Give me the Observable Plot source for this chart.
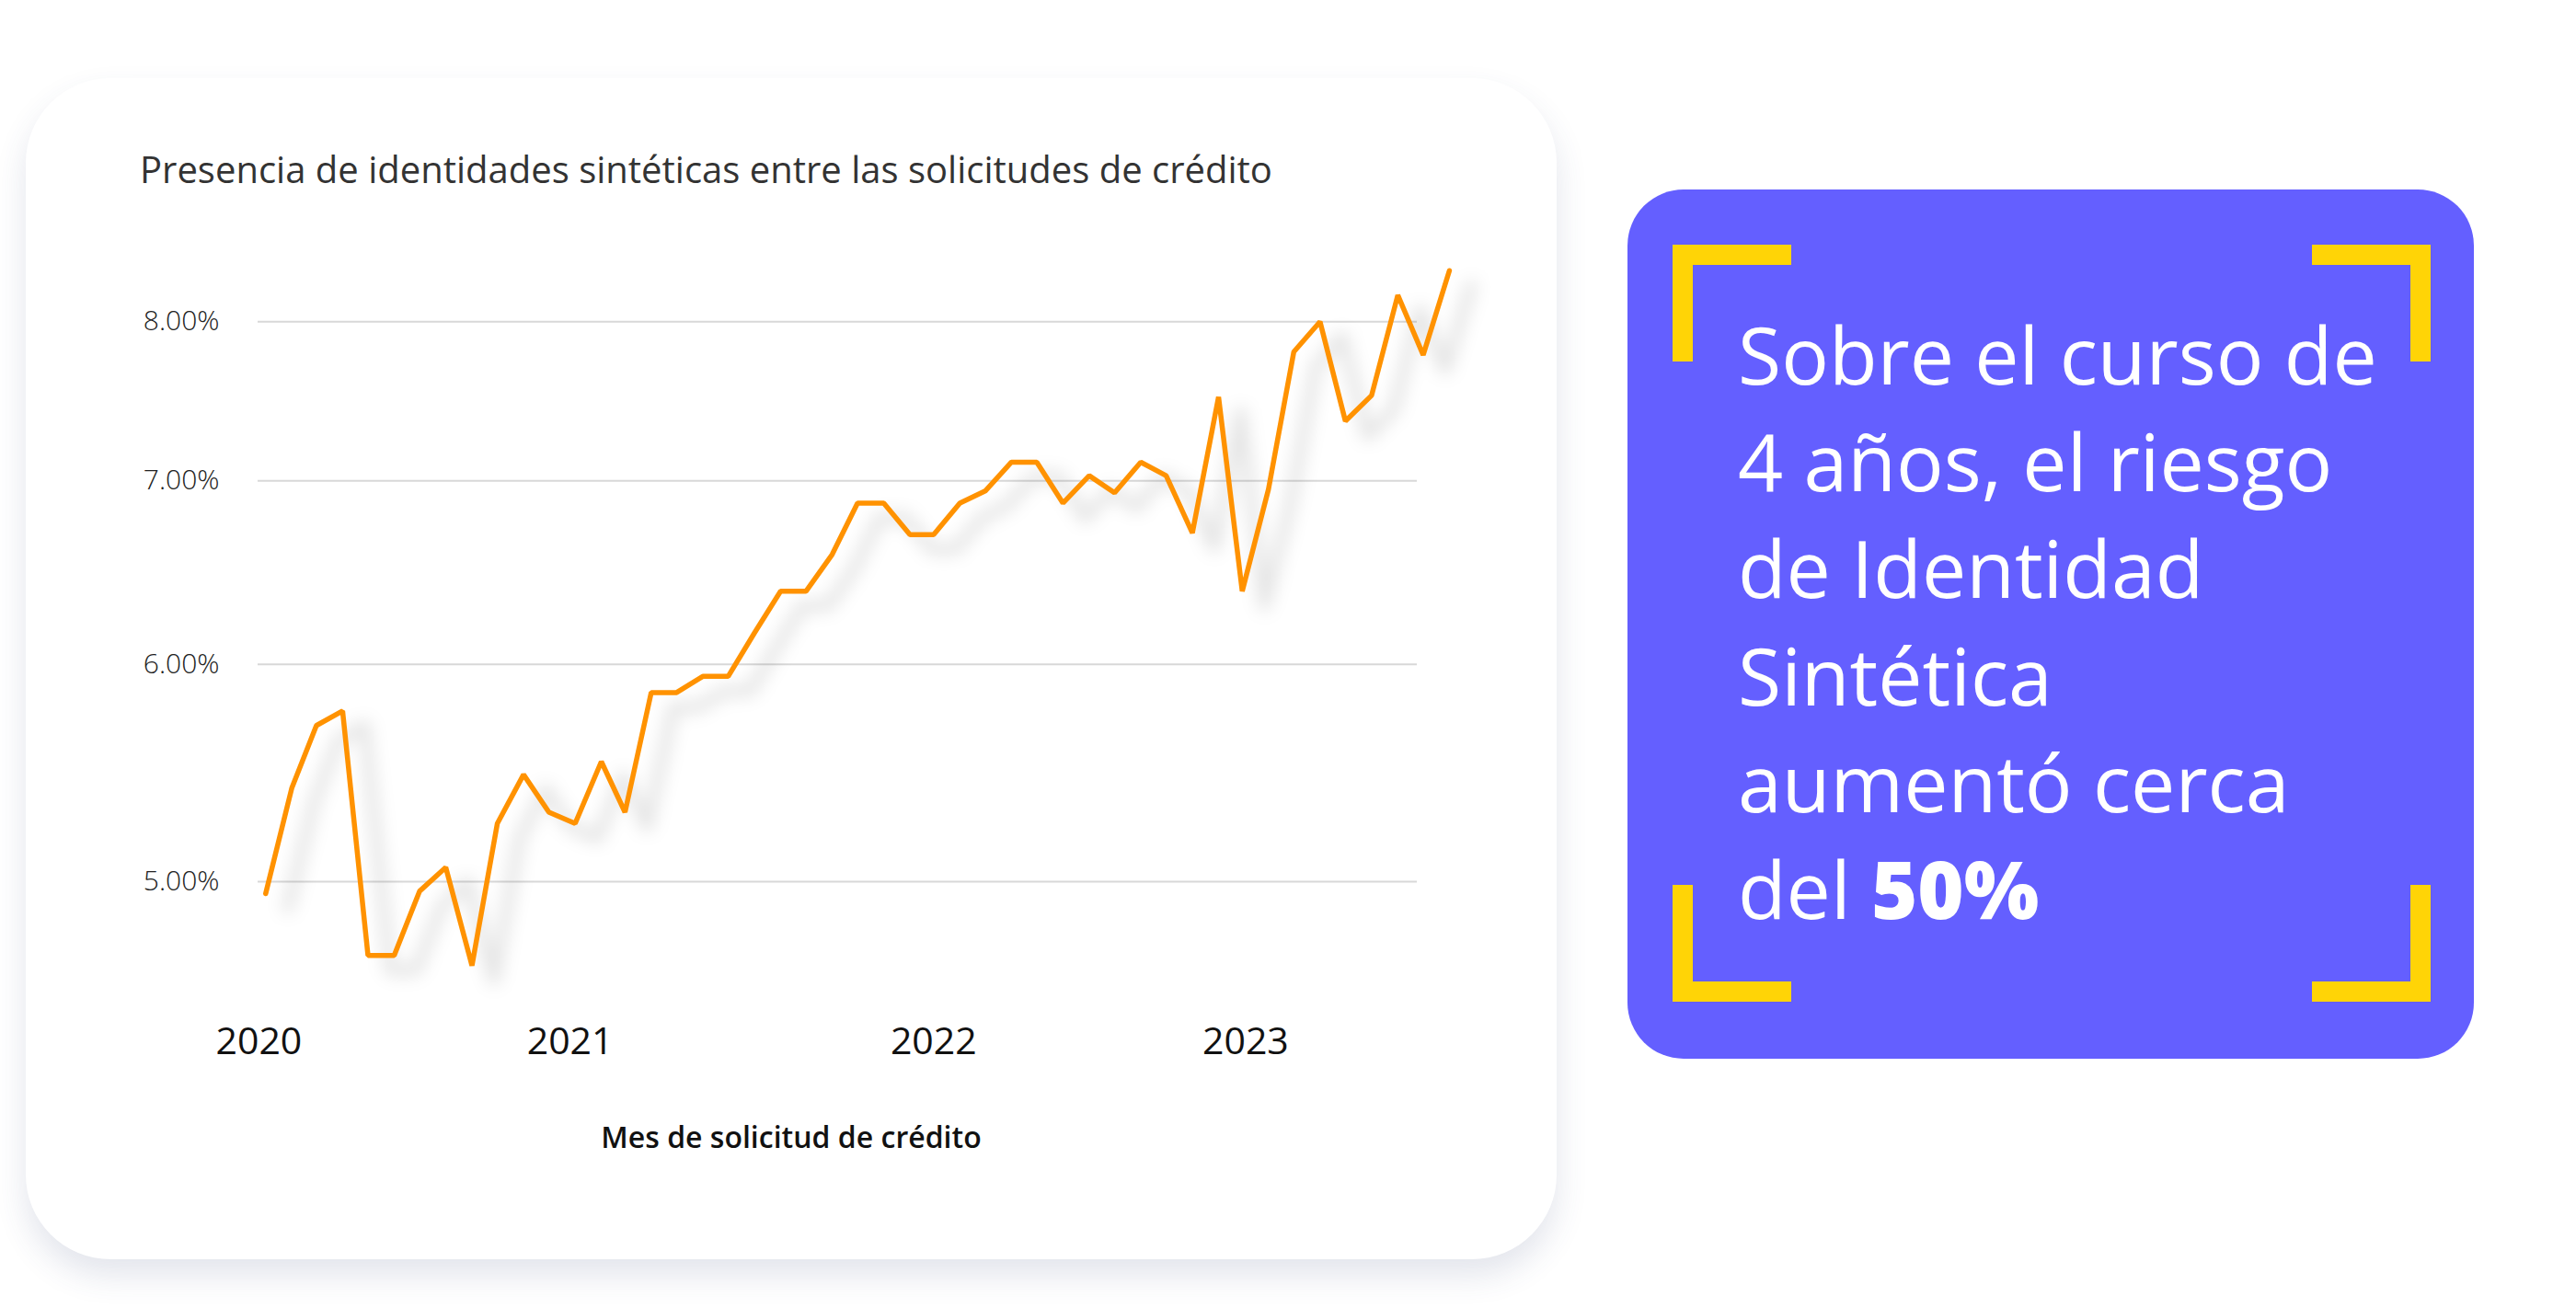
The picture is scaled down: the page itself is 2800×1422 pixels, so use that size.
<!DOCTYPE html>
<html>
<head>
<meta charset="utf-8">
<script src="https://cdn.jsdelivr.net/npm/d3@7"></script>
<script src="https://cdn.jsdelivr.net/npm/@observablehq/plot@0.6"></script>
<style>
html, body { margin: 0; padding: 0; background: #ffffff; }
body { width: 2800px; height: 1422px; position: relative; overflow: hidden; font-family: "Open Sans", sans-serif; }
#card { position: absolute; left: 28px; top: 85px; width: 1664px; height: 1284px; background: #ffffff; border-radius: 92px; box-shadow: 0 18px 34px rgba(60, 70, 120, 0.14); }
#title { position: absolute; left: 152px; top: 156px; font-size: 40px; color: #333333; white-space: nowrap; }
#chart { position: absolute; left: 0; top: 0; }
#xtitle { position: absolute; left: 860px; top: 1214px; transform: translateX(-50%); font-size: 32px; font-weight: 600; color: #111111; white-space: nowrap; }
#panel { position: absolute; left: 1769px; top: 206px; width: 920px; height: 945px; background: #645fff; border-radius: 61px; }
.br { position: absolute; width: 129px; height: 127px; box-sizing: border-box; border: 0 solid #ffd406; }
#msg { position: absolute; left: 1889px; top: 327px; font-size: 86px; font-weight: 400; line-height: 116.2px; color: #ffffff; white-space: nowrap; }
#msg b { font-weight: 800; }
</style>
</head>
<body>
<div id="card"></div>
<div id="title"></div>
<div id="chart"></div>
<div id="xtitle"></div>
<div id="panel"></div>
<div class="br" style="left:1818px;top:266px;border-top-width:22px;border-left-width:22px;"></div>
<div class="br" style="left:2513px;top:266px;border-top-width:22px;border-right-width:22px;"></div>
<div class="br" style="left:1818px;top:962px;border-bottom-width:22px;border-left-width:22px;"></div>
<div class="br" style="left:2513px;top:962px;border-bottom-width:22px;border-right-width:22px;"></div>
<div id="msg"></div>
<script>
// ---- data ----
const chartTitle = "Presencia de identidades sintéticas entre las solicitudes de crédito";
const xAxisTitle = "Mes de solicitud de crédito";
const months = [
  "2020-01","2020-02","2020-03","2020-04","2020-05","2020-06","2020-07","2020-08","2020-09","2020-10","2020-11","2020-12",
  "2021-01","2021-02","2021-03","2021-04","2021-05","2021-06","2021-07","2021-08","2021-09","2021-10","2021-11","2021-12",
  "2022-01","2022-02","2022-03","2022-04","2022-05","2022-06","2022-07","2022-08","2022-09","2022-10","2022-11","2022-12",
  "2023-01","2023-02","2023-03","2023-04","2023-05","2023-06","2023-07","2023-08","2023-09","2023-10","2023-11"
];
const syntheticPct = [
  4.95, 5.41, 5.70, 5.77, 4.70, 4.70, 4.96, 5.06, 4.66, 5.25, 5.47, 5.30,
  5.25, 5.53, 5.30, 5.86, 5.86, 5.94, 5.94, 6.16, 6.38, 6.38, 6.58, 6.87,
  6.87, 6.69, 6.69, 6.87, 6.94, 7.11, 7.11, 6.87, 7.03, 6.93, 7.11, 7.03,
  6.70, 7.51, 6.38, 6.95, 7.80, 8.00, 7.36, 7.52, 8.18, 7.78, 8.35
];
const yTicks = [5, 6, 7, 8];
// positions of the year labels as they appear on the original axis
const yearTickDates = ["2019-12-24", "2020-12-26", "2022-03-01", "2023-03-05"];
const messageLines = ["Sobre el curso de", "4 años, el riesgo", "de Identidad", "Sintética", "aumentó cerca", "del "];
const messageBold = "50%";

// ---- text ----
document.getElementById("title").textContent = chartTitle;
document.getElementById("xtitle").textContent = xAxisTitle;
const msg = document.getElementById("msg");
messageLines.forEach((l, i) => {
  msg.appendChild(document.createTextNode(l));
  if (i < messageLines.length - 1) msg.appendChild(document.createElement("br"));
});
const b = document.createElement("b");
b.textContent = messageBold;
msg.appendChild(b);

// ---- chart ----
const data = months.map((m, i) => ({date: new Date(m + "-01T00:00:00Z"), v: syntheticPct[i]}));

const chart = Plot.plot({
  width: 1700,
  height: 1300,
  marginLeft: 280,
  marginRight: 160,
  marginTop: 286,
  marginBottom: 234,
  style: {background: "transparent", overflow: "visible", fontFamily: "Open Sans, sans-serif"},
  x: {type: "utc", domain: [new Date("2019-12-23T00:00:00Z"), new Date("2023-09-24T00:00:00Z")]},
  y: {type: "log", domain: [4.6, 8.4]},
  marks: [
    Plot.gridY(yTicks, {stroke: "#d8d8d8", strokeOpacity: 1, strokeWidth: 2}),
    Plot.line(data, {x: "date", y: "v", stroke: "#000000", strokeOpacity: 0.11, strokeWidth: 12, dx: 24, dy: 16}),
    Plot.line(data, {x: "date", y: "v", stroke: "#ff9200", strokeWidth: 5.5, strokeLinejoin: "miter"}),
    Plot.axisY(yTicks, {tickSize: 0, tickPadding: 42, tickFormat: d => d.toFixed(2) + "%", fontSize: 30, fontWeight: 300, fill: "#222222", label: null}),
    Plot.axisX(yearTickDates.map(d => new Date(d + "T00:00:00Z")), {tickSize: 0, tickPadding: 50, tickFormat: d => String(d3.utcYear.round(d).getUTCFullYear()), fontSize: 41, fill: "#111111", label: null})
  ]
});
document.getElementById("chart").appendChild(chart);
const lineGroups = chart.querySelectorAll('g[aria-label="line"]');
if (lineGroups.length) lineGroups[0].style.filter = "blur(9px)";
</script>
</body>
</html>
